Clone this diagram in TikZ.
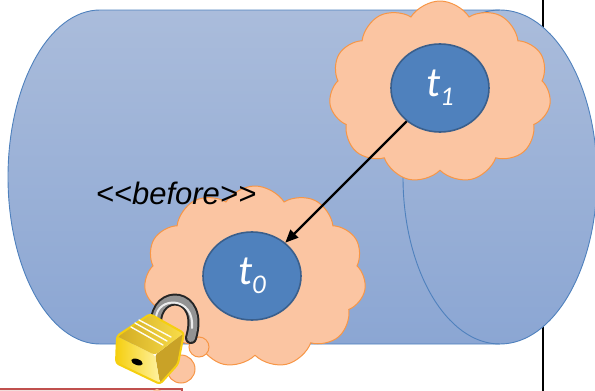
\documentclass[tikz,border=0pt]{standalone}
\usepackage{fontspec}
\setmainfont{Liberation Sans}
\newfontfamily\calfont{Carlito}
\usetikzlibrary{shapes.geometric,shapes.symbols,arrows.meta}
\definecolor{cylTop}{HTML}{AABCDB}
\definecolor{cylBot}{HTML}{8BA6D3}
\definecolor{cylLine}{HTML}{4F81BD}
\definecolor{puffFill}{HTML}{FBC5A2}
\definecolor{puffLine}{HTML}{F79646}
\definecolor{tokFill}{HTML}{4F81BD}
\definecolor{tokLine}{HTML}{3A5F8C}
\definecolor{boxLine}{HTML}{C0504D}
\definecolor{boxFill}{HTML}{F2DCDB}
\definecolor{goldA}{HTML}{F5CF10}
\definecolor{goldB}{HTML}{FFF2A0}
\definecolor{goldC}{HTML}{C9A227}
\tikzset{
  thought/.style={cloud, cloud puffs=11, cloud puff arc=115, aspect=1.25,
    fill=puffFill, draw=puffLine, line width=1pt,
    minimum width=222pt, minimum height=182pt, inner sep=0pt},
  token/.style={ellipse, fill=tokFill, draw=tokLine, line width=1.6pt,
    minimum width=98pt, minimum height=88pt, inner sep=0pt,
    text=white, font=\calfont\itshape\fontsize{42}{42}\selectfont},
  bubble/.style={fill=puffFill, draw=puffLine, line width=1pt},
  link/.style={line width=2.2pt, -{Triangle[length=13pt,width=11pt]}},
  stereo/.style={font=\itshape\fontsize{31}{31}\selectfont, text=black}
}
\newcommand{\tsub}[1]{\raisebox{-0.22em}{\fontsize{27}{27}\selectfont #1}}
\begin{document}
\begin{tikzpicture}[x=1pt,y=-1pt]
\useasboundingbox (0,0) rectangle (595,391);
\clip (0,0) rectangle (595,391);

% divider line behind the cylinder
\draw[line width=1.6pt] (543,0) -- (543,391);

% box peeking in at the bottom
\draw[draw=boxLine, fill=boxFill, line width=1.5pt] (-2,389) rectangle (182,400);
\fill[puffFill] (157,394) circle (5);

% the storage cylinder
\shade[top color=cylTop, bottom color=cylBot, draw=cylLine, line width=0.9pt]
  (500,10) -- (100,10)
  arc[start angle=270, end angle=90, x radius=92, y radius=167]
  -- (500,344)
  arc[start angle=90, end angle=-90, x radius=97, y radius=167] -- cycle;
\draw[cylLine, line width=0.9pt]
  (500,10) arc[start angle=270, end angle=90, x radius=97, y radius=167];

% thought clouds with the two tokens
\node[thought] (cloudB) at (440,92) {};
\node[thought] (cloudA) at (255,277) {};
\node[token] (t1) at (440,88) {t\tsub{1}};
\node[token] (t0) at (252,276) {t\tsub{0}};

\draw[link] (t1) -- (t0);

\node[stereo] (lbl) at (176,193) {<\kern0pt<before>\kern0pt>};

% tail of the thought bubble
\draw[bubble] (199,347) circle (10);
\draw[bubble] (181,369) circle (14);

% padlock: shackle
\draw[line width=12pt, color=gray!30!black, line cap=round]
  (156,324) .. controls (155,288) and (205,291) .. (191,338);
\draw[line width=8pt, color=gray!85, line cap=round]
  (156,324) .. controls (155,288) and (205,291) .. (191,338);
\draw[line width=2pt, color=white!85!gray, line cap=round]
  (156,318) .. controls (157,296) and (195,296) .. (192,328);
% padlock: body faces
\begin{scope}[line join=round, rounded corners=3pt]
\fill[goldC] (155,355) -- (184,333) -- (178,364) -- (160,384) -- cycle;
\shade[left color=goldA, right color=goldB] (117,336) -- (155,355) -- (160,384) -- (116,363) -- cycle;
\shade[left color=goldC!80!goldA, right color=goldA!60!goldB] (117,336) -- (150,314) -- (184,333) -- (155,355) -- cycle;
\draw[goldA, line width=2pt] (117,336) -- (150,314) -- (184,333) -- (178,364) -- (160,384) -- (116,363) -- cycle;
\end{scope}
\draw[white!85!goldB, line width=1.4pt, line cap=round] (131,327) -- (163,345);
\draw[white!85!goldB, line width=1.4pt, line cap=round] (135,323) -- (167,341);
\draw[white!85!goldB, line width=1.4pt, line cap=round] (139,320) -- (171,337);
\fill[black] (137,362) ellipse[x radius=6, y radius=3, rotate=-20];
\end{tikzpicture}
\end{document}
